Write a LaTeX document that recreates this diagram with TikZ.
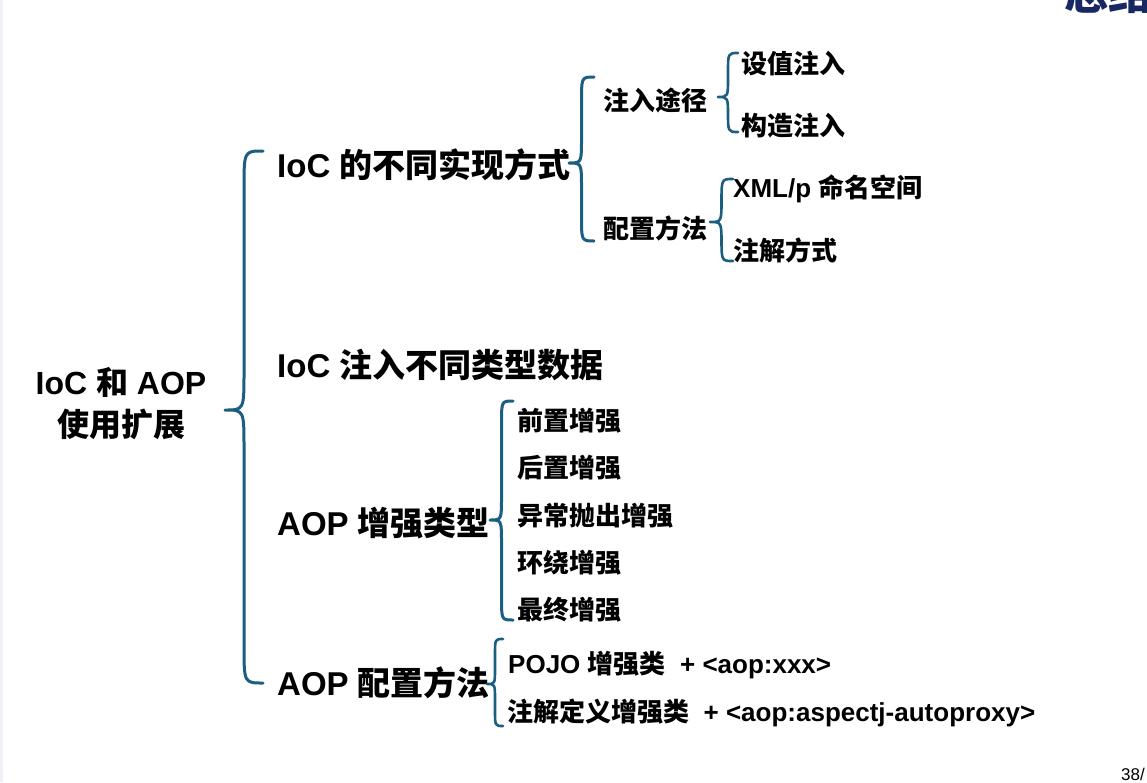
\documentclass[tikz,border=0pt]{standalone}
\usepackage{fontspec}
\setmainfont{Liberation Sans}
\newfontfamily\cjk{Noto Sans CJK SC}
\definecolor{bracecol}{RGB}{27,94,128}
\definecolor{navy}{RGB}{24,40,100}
\definecolor{edgecol}{RGB}{238,241,246}
\newcommand\cj[1]{{\cjk\bfseries #1}}
\newcommand\mybrace[6][3pt]{%
 \pgfmathsetmacro\bxv{(#2+#3)/2}%
 \pgfmathsetmacro\bh{(#3-#2)*1.0}%
 \draw[bracestyle,line width=#1] (#3,#4) .. controls (\bxv,#4) .. (\bxv,#4+\bh) -- (\bxv,#5-\bh) .. controls (\bxv,#5) .. (#2,#5) .. controls (\bxv,#5) .. (\bxv,#5+\bh) -- (\bxv,#6-\bh) .. controls (\bxv,#6) .. (#3,#6);}
\tikzset{
 bracestyle/.style={draw=bracecol,line cap=round,line join=round},
 lvlone/.style={anchor=base west,inner sep=0pt,font=\bfseries\fontsize{33}{38}\selectfont},
 lvltwo/.style={anchor=base west,inner sep=0pt,font=\bfseries\fontsize{26}{30}\selectfont},
}
\begin{document}
\begin{tikzpicture}[x=1pt,y=-1pt]
\useasboundingbox (0,0) rectangle (1147,782);
\fill[white] (0,0) rectangle (1147,782);
\fill[edgecol] (0,0) rectangle (3,782);
% title fragment
\node[anchor=base west,inner sep=0pt,text=navy,font=\fontsize{44}{50}\selectfont] (title) at (1064,9) {\cj{总结}};
\node[anchor=base west,inner sep=0pt,font=\fontsize{17}{20}\selectfont] (page) at (1121,780) {38/};
% root
\node[align=center,inner sep=0pt,font=\bfseries\fontsize{32}{42}\selectfont] (root) at (121,404) {IoC \cj{和} AOP\\\cj{使用扩展}};
% level one
\node[lvlone] (ioc1) at (277,177) {IoC \cj{的不同实现方式}};
\node[lvlone] (ioc2) at (277,377) {IoC \cj{注入不同类型数据}};
\node[lvlone] (aop1) at (277,535) {AOP \cj{增强类型}};
\node[lvlone] (aop2) at (277,695) {AOP \cj{配置方法}};
% level two
\node[lvltwo] (inj) at (603,110) {\cj{注入途径}};
\node[lvltwo] (cfg) at (603,238) {\cj{配置方法}};
\node[lvltwo] (set) at (741,73) {\cj{设值注入}};
\node[lvltwo] (con) at (741,135) {\cj{构造注入}};
\node[lvltwo] (xml) at (733,197) {XML/p \cj{命名空间}};
\node[lvltwo] (ann) at (733,260) {\cj{注解方式}};
\node[lvltwo] (adv1) at (517,430) {\cj{前置增强}};
\node[lvltwo] (adv2) at (517,477) {\cj{后置增强}};
\node[lvltwo] (adv3) at (517,525) {\cj{异常抛出增强}};
\node[lvltwo] (adv4) at (517,572) {\cj{环绕增强}};
\node[lvltwo] (adv5) at (517,619) {\cj{最终增强}};
\node[lvltwo] (pojo) at (508,673) {POJO \cj{增强类}\ \ + <aop:xxx>};
\node[lvltwo] (anno) at (507,721) {\cj{注解定义增强类}\ \ + <aop:aspectj-autoproxy>};
% braces
\mybrace{225}{263}{151}{410}{683}
\mybrace{569}{594}{77}{163}{241}
\mybrace[2.6pt]{718}{738}{53}{97}{132}
\mybrace[2.6pt]{710}{733}{179}{222}{261}
\mybrace{490}{513}{401}{520}{620}
\mybrace[2.6pt]{487}{503}{639}{684}{726}
\end{tikzpicture}
\end{document}
